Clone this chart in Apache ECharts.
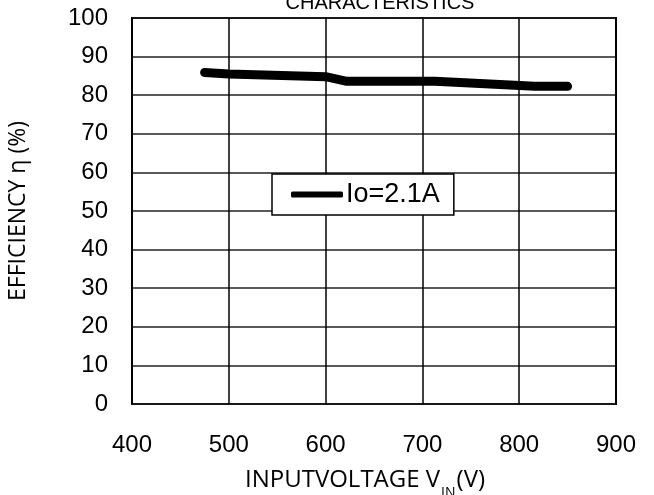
<!DOCTYPE html>
<html>
<head>
<meta charset="utf-8">
<script src="https://cdn.jsdelivr.net/npm/echarts@6/dist/echarts.min.js"></script>
<style>html,body{margin:0;padding:0;background:#fff}#c{width:654px;height:495px}</style>
</head>
<body>
<div id="c"></div>
<script>
const inputVoltage = [475, 500, 600, 622, 713, 816, 850];
const efficiency = [85.9, 85.5, 84.8, 83.6, 83.6, 82.3, 82.3];
const seriesName = 'Io=2.1A';
const xTicks = [400, 500, 600, 700, 800, 900];
const yTicks = [0, 10, 20, 30, 40, 50, 60, 70, 80, 90, 100];

const chart = echarts.init(document.getElementById('c'));
chart.setOption({
  animation: false,
  backgroundColor: '#fff',
  title: {
    text: 'CHARACTERISTICS',
    left: 375, textAlign: 'center', top: -12,
    textStyle: { fontFamily: 'Liberation Sans', fontSize: 20, fontWeight: 'normal', color: '#000' }
  },
  grid: { left: 132, top: 18, width: 484, height: 386, show: true, borderColor: '#000', borderWidth: 2, containLabel: false, outerBoundsMode: 'none' },
  legend: {
    left: 272, top: 174, data: [seriesName],
    orient: 'horizontal', itemWidth: 52, itemHeight: 6, itemGap: 4,
    padding: [7, 14, 7, 19],
    borderColor: '#000', borderWidth: 1.5, backgroundColor: '#fff',
    textStyle: { fontFamily: 'Liberation Sans', fontSize: 27, color: '#000', padding: [0, 0, 0, -2] },
    icon: 'roundRect'
  },
  xAxis: {
    type: 'value', min: 400, max: 900, interval: 100,
    name: '{n|INPUTVOLTAGE V}{s|IN}{n|(V)}', nameLocation: 'middle', nameGap: 64,
    nameTextStyle: { padding: [0, 18, 0, 0], rich: { n: { fontFamily: 'Open Sans', fontSize: 24, color: '#000', verticalAlign: 'bottom' }, s: { fontFamily: 'Open Sans', fontSize: 14, color: '#000', verticalAlign: 'bottom', padding: [0, 1, -8, 1] } } },
    axisLine: { show: false }, axisTick: { show: false },
    axisLabel: { margin: 29, fontFamily: 'Liberation Sans', fontSize: 24, color: '#000' },
    splitLine: { show: true, lineStyle: { color: '#000', width: 1.5 } }
  },
  yAxis: {
    type: 'value', min: 0, max: 100, interval: 10,
    name: 'EFFICIENCY η (%)', nameLocation: 'middle', nameGap: 102, nameRotate: 90,
    nameTextStyle: { fontFamily: 'Open Sans', fontSize: 23, color: '#000' },
    axisLine: { show: false }, axisTick: { show: false },
    axisLabel: { margin: 24, fontFamily: 'Liberation Sans', fontSize: 24, color: '#000' },
    splitLine: { show: true, lineStyle: { color: '#222', width: 1.5 } }
  },
  series: [{
    name: seriesName, type: 'line', symbol: 'none',
    data: inputVoltage.map((v, i) => [v, efficiency[i]]),
    lineStyle: { color: '#000', width: 9, cap: 'round', join: 'round' },
    itemStyle: { color: '#000' }
  }]
});
</script>
</body>
</html>
